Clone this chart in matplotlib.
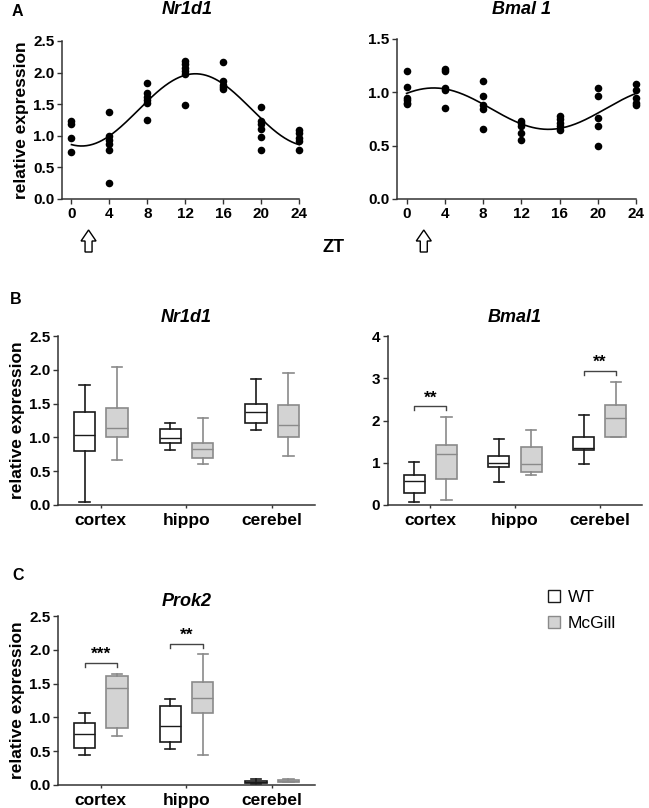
import numpy as np
import matplotlib
matplotlib.use("Agg")
import matplotlib.pyplot as plt
from matplotlib.patches import FancyArrow, Patch
from matplotlib.transforms import IdentityTransform

plt.rcParams['font.family'] = ['Liberation Sans', 'DejaVu Sans']
plt.rcParams['axes.linewidth'] = 1.0

# ---------------- Data ----------------
zt = [0, 4, 8, 12, 16, 20, 24]
nr1d1_points = [
    [1.24, 1.18, 0.96, 0.74],
    [1.38, 0.99, 0.93, 0.87, 0.78, 0.25],
    [1.84, 1.67, 1.61, 1.56, 1.52, 1.25],
    [2.19, 2.13, 2.07, 2.02, 1.97, 1.49],
    [2.17, 1.86, 1.81, 1.77, 1.74],
    [1.46, 1.24, 1.19, 1.11, 0.98, 0.77],
    [1.09, 1.04, 0.96, 0.91, 0.78],
]
bmal1_points = [
    [1.20, 1.05, 0.95, 0.93, 0.90, 0.89],
    [1.22, 1.20, 1.04, 1.02, 0.85],
    [1.11, 0.97, 0.88, 0.84, 0.66],
    [0.73, 0.71, 0.68, 0.62, 0.55],
    [0.78, 0.75, 0.71, 0.68, 0.65],
    [1.04, 0.97, 0.76, 0.68, 0.50],
    [1.08, 1.02, 0.95, 0.90, 0.88],
]
zt_ticks = [0, 4, 8, 12, 16, 20, 24]
light_zt = 1.8

regions = ['cortex', 'hippo', 'cerebel']
groups = ['WT', 'McGill']
# box stats: [whislo, q1, med, q3, whishi]
nr1d1_wt = [[0.05, 0.80, 1.03, 1.37, 1.78],
            [0.81, 0.91, 0.99, 1.12, 1.22],
            [1.11, 1.21, 1.37, 1.49, 1.86]]
nr1d1_mc = [[0.67, 1.00, 1.14, 1.44, 2.04],
            [0.61, 0.70, 0.83, 0.91, 1.28],
            [0.72, 1.01, 1.18, 1.48, 1.96]]
bmal1_wt = [[0.06, 0.29, 0.56, 0.72, 1.02],
            [0.55, 0.90, 1.00, 1.17, 1.57],
            [0.96, 1.29, 1.36, 1.61, 2.13]]
bmal1_mc = [[0.13, 0.61, 1.20, 1.43, 2.09],
            [0.70, 0.78, 0.96, 1.38, 1.77],
            [1.62, 1.62, 2.05, 2.36, 2.91]]
prok2_wt = [[0.45, 0.55, 0.75, 0.91, 1.06],
            [0.53, 0.63, 0.88, 1.17, 1.27],
            [0.01, 0.03, 0.04, 0.06, 0.09]]
prok2_mc = [[0.72, 0.85, 1.43, 1.61, 1.64],
            [0.45, 1.07, 1.28, 1.53, 1.94],
            [0.04, 0.05, 0.06, 0.075, 0.085]]
# significance: (region index, bracket y, label)
bmal1_sig = [(0, 2.34, '**'), (2, 3.17, '**')]
prok2_sig = [(0, 1.81, '***'), (1, 2.09, '**')]

# ---------------- Styles ----------------
W, H = 649, 808
fig = plt.figure(figsize=(W / 100, H / 100), dpi=100)

def ax_px(x0, x1, ytop, ybot):
    return fig.add_axes([x0 / W, 1 - ybot / H, (x1 - x0) / W, (ybot - ytop) / H])

SPINE = '#333333'
WT_EDGE = '#1a1a1a'
MC_EDGE = '#8a8a8a'
MC_FACE = '#d3d3d3'

def style_axes(ax, ticksize=10.5):
    for s in ['top', 'right']:
        ax.spines[s].set_visible(False)
    for s in ['left', 'bottom']:
        ax.spines[s].set_color(SPINE)
        ax.spines[s].set_linewidth(1.1)
    ax.tick_params(axis='both', direction='out', length=3.5, width=1.0, color=SPINE,
                   labelsize=ticksize, pad=2)
    for lab in ax.get_xticklabels() + ax.get_yticklabels():
        lab.set_fontweight('bold')

def cosinor(points):
    xs = np.concatenate([[t] * len(p) for t, p in zip(zt, points)])
    ys = np.concatenate(points)
    w = 2 * np.pi / 24
    A = np.column_stack([np.ones_like(xs), np.cos(w * xs), np.sin(w * xs)])
    coef, *_ = np.linalg.lstsq(A, ys, rcond=None)
    xx = np.linspace(0, 24, 300)
    return xx, coef[0] + coef[1] * np.cos(w * xx) + coef[2] * np.sin(w * xx)

def time_panel(ax, points, ymax, yticks, title_x, title):
    for t, p in zip(zt, points):
        ax.scatter([t] * len(p), p, s=30, color='black', zorder=3, clip_on=False, linewidths=0)
    xx, yy = cosinor(points)
    ax.plot(xx, yy, color='black', lw=1.2)
    ax.set_xlim(-1.0, 24.1)
    ax.set_ylim(0, ymax)
    ax.set_xticks(zt_ticks)
    ax.set_xticklabels([str(v) for v in zt_ticks])
    ax.set_yticks(yticks)
    ax.set_yticklabels([f'{v:.1f}' for v in yticks])
    style_axes(ax, ticksize=11)
    ax.spines['left'].set_bounds(0, ymax)
    ax.spines['bottom'].set_bounds(-1.0, 24.0)
    fig.text(title_x / W, 1 - 10 / H, title, ha='center', va='center',
             fontsize=13, fontweight='bold', style='italic')
    # hollow arrow under the light-on time
    fig.canvas.draw()
    xp = ax.transData.transform((light_zt, 0))[0]
    arr = FancyArrow(xp, H - 252, 0, 22, width=7, head_width=15, head_length=11,
                     length_includes_head=True, transform=IdentityTransform(),
                     facecolor='white', edgecolor='black', lw=1.0)
    fig.add_artist(arr)

axA1 = ax_px(62, 300, 41, 199)
axA2 = ax_px(397, 637, 39, 199)
time_panel(axA1, nr1d1_points, 2.5, [0.0, 0.5, 1.0, 1.5, 2.0, 2.5], 187, 'Nr1d1')
time_panel(axA2, bmal1_points, 1.5, [0.0, 0.5, 1.0, 1.5], 522, 'Bmal 1')
axA1.set_ylabel('relative expression', fontsize=12.5, fontweight='bold', labelpad=3)
fig.text(334 / W, 1 - 248 / H, 'ZT', ha='center', va='center', fontsize=13, fontweight='bold')

def stats_list(vals):
    return [dict(whislo=v[0], q1=v[1], med=v[2], q3=v[3], whishi=v[4], fliers=[]) for v in vals]

def box_panel(ax, wt, mc, ymax, yticks, fmt, sigs, title, title_y):
    pos = np.arange(len(regions))
    off = 0.19
    for vals, dx, edge, face in [(wt, -off, WT_EDGE, 'white'), (mc, off, MC_EDGE, MC_FACE)]:
        ax.bxp(stats_list(vals), positions=pos + dx, widths=0.25, capwidths=0.12,
               patch_artist=True, showfliers=False,
               boxprops=dict(facecolor=face, edgecolor=edge, linewidth=1.2),
               medianprops=dict(color=edge, linewidth=1.0),
               whiskerprops=dict(color=edge, linewidth=1.2),
               capprops=dict(color=edge, linewidth=1.2))
    for i, y, lab in sigs:
        x0, x1 = pos[i] - off, pos[i] + off
        leg = ymax * 0.025
        ax.plot([x0, x0, x1, x1], [y - leg, y, y, y - leg], color='#444444', lw=1.0, clip_on=False)
        ax.text((x0 + x1) / 2, y + ymax * 0.005, lab, ha='center', va='bottom',
                fontsize=12.5, fontweight='bold')
    ax.set_xlim(-0.5, 2.5)
    ax.set_ylim(0, ymax)
    ax.set_xticks(pos)
    ax.set_xticklabels(regions)
    ax.set_yticks(yticks)
    ax.set_yticklabels([fmt.format(v) for v in yticks])
    style_axes(ax, ticksize=11)
    ax.tick_params(axis='x', length=2.5, labelsize=12.5, pad=3)
    for lab in ax.get_xticklabels():
        lab.set_fontweight('bold')
    bb = ax.get_position()
    fig.text((bb.x0 + bb.x1) / 2, 1 - title_y / H, title, ha='center', va='center',
             fontsize=13, fontweight='bold', style='italic')

axB1 = ax_px(58, 315, 336, 505)
axB2 = ax_px(388, 642, 336, 505)
axC = ax_px(58, 315, 616, 785)
box_panel(axB1, nr1d1_wt, nr1d1_mc, 2.5, [0.0, 0.5, 1.0, 1.5, 2.0, 2.5], '{:.1f}', [], 'Nr1d1', 318)
box_panel(axB2, bmal1_wt, bmal1_mc, 4, [0, 1, 2, 3, 4], '{:d}', bmal1_sig, 'Bmal1', 318)
box_panel(axC, prok2_wt, prok2_mc, 2.5, [0.0, 0.5, 1.0, 1.5, 2.0, 2.5], '{:.1f}', prok2_sig, 'Prok2', 602)
axB1.set_ylabel('relative expression', fontsize=12.5, fontweight='bold', labelpad=3)
axC.set_ylabel('relative expression', fontsize=12.5, fontweight='bold', labelpad=3)

# panel letters
for lab, x, y in [('A', 12, 12), ('B', 10, 300), ('C', 12, 575)]:
    fig.text(x / W, 1 - y / H, lab, ha='left', va='center', fontsize=11.5, fontweight='bold')

# legend
handles = [Patch(facecolor='white', edgecolor=WT_EDGE, lw=1.0),
           Patch(facecolor=MC_FACE, edgecolor=MC_EDGE, lw=1.0)]
fig.legend(handles, groups, loc='upper left', bbox_to_anchor=(548 / W, 1 - 590 / H),
           frameon=False, fontsize=12.5, handlelength=0.7, handleheight=0.7,
           handletextpad=0.45, labelspacing=0.6, borderpad=0, borderaxespad=0)

fig.savefig('out.png', dpi=100)
